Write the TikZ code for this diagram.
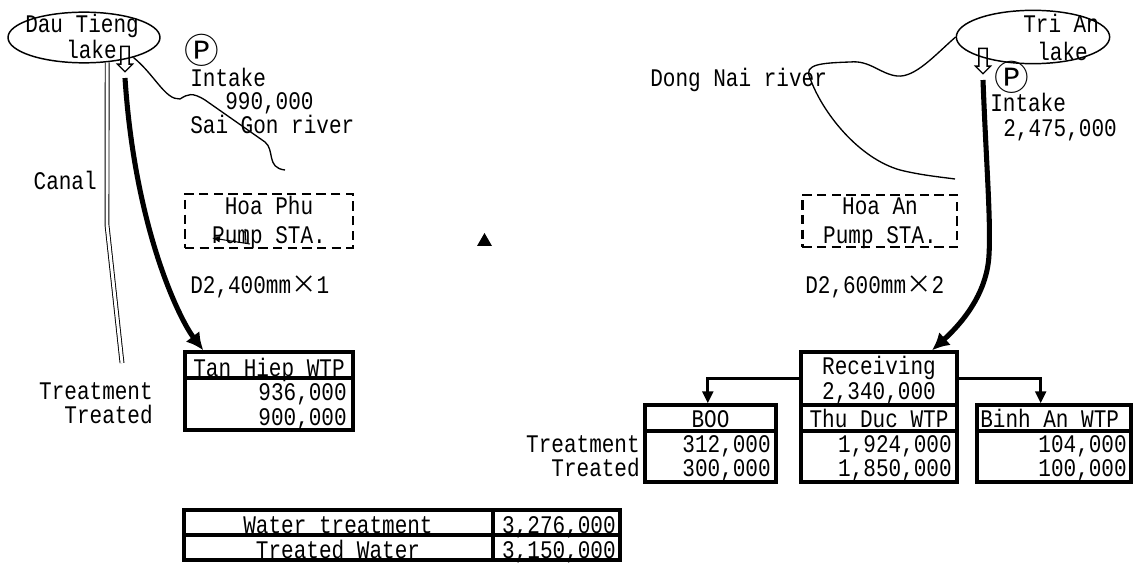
\documentclass[tikz,border=0pt]{standalone}
\usepackage{fontspec}
\setmainfont{Liberation Mono}[FakeStretch=0.83]
\newfontfamily\symfont{Noto Sans CJK JP}
\usetikzlibrary{arrows.meta, shapes.geometric, shapes.arrows}

\begin{document}
\begin{tikzpicture}[
  x=0.75pt, y=-0.75pt,
  font=\fontsize{19}{17.6}\selectfont,
  txt/.style={inner sep=0pt, anchor=base west},
  txtr/.style={inner sep=0pt, anchor=base east},
  txtc/.style={inner sep=0pt, anchor=base},
  pmark/.style={font=\symfont\fontsize{26}{26}\selectfont, inner sep=0pt},
  lake/.style={draw, ellipse, line width=1.1pt, inner sep=0pt},
  pumpsta/.style={draw, dash pattern=on 7pt off 4pt, line width=2pt},
  tbl/.style={draw, line width=2.5pt, inner sep=0pt},
  rule/.style={line width=2.5pt},
  river/.style={line width=1pt},
  mainpipe/.style={line width=3.8pt, -{Latex[length=13pt,width=13pt]}},
  branch/.style={line width=2.3pt, -{Triangle[length=9pt,width=8pt]}},
  inflow/.style={draw, single arrow, shape border rotate=270, line width=1pt,
    inner sep=2.6pt, minimum width=10.5pt, single arrow head extend=2.6pt,
    single arrow head indent=0pt, minimum height=19pt},
]
  % page: 1133 x 563 px, 1px = 0.75pt, y grows downwards
  \useasboundingbox (0,0) rectangle (1133,563);
  \newcommand\mtimes{{\symfont ×}}

  % ---------------- Sai Gon side ----------------
  \node[lake, minimum width=114pt, minimum height=38pt] (dautieng) at (84,37.5) {};
  \node[txt] (dtname) at (25,33) {Dau Tieng};
  \node[txt] (dtlake) at (66,59) {lake};
  \node[inflow] (dtarrow) at (125,57) {};

  % Sai Gon river
  \coordinate (sgend) at (285,170);
  \draw[river] (dautieng.-22) .. controls (155,75) and (165,100) .. (180,99)
    .. controls (188,94) and (192,92) .. (205,100) -- (265,142)
    .. controls (275,150) and (266,168) .. (sgend);

  \node[pmark] (dtpump) at (202,50) {Ⓟ};
  \node[txt] (dtintake) at (190,87) {Intake};
  \node[txt] (dtflow) at (225,110) {990,000};
  \node[txt] (sgriver) at (190,134) {Sai Gon river};

  % canal
  \coordinate (canalbend) at (107,225);
  \coordinate (canalend) at (122,363);
  \draw[double, double distance=2.2pt, line width=0.7pt]
    (dautieng.-47) -- (canalbend) -- (canalend);
  \node[txtr] (canal) at (97,190) {Canal};

  % Hoa Phu pump station
  \node[pumpsta, minimum width=126pt, minimum height=40.5pt] (hoaphu) at (269,221) {};
  \node[txtc] (hpname) at (269,215) {Hoa Phu};
  \node[txtc] (hpsta) at (269,244) {Pump STA.};
  \coordinate (artA) at (250,244);
  \coordinate (artB) at (212,238);
  \draw[line width=0.8pt, -{Latex[length=6pt,width=5pt]}] (artA) -- (artB);
  \draw[line width=0.8pt] (245,229) -- (246,243);

  \fill (477,246) -- (484.5,233) -- (492,246) -- cycle;

  \node[txt] (dtpipe) at (190,294) {D2,400mm\mtimes1};

  % Tan Hiep WTP
  \node[tbl, minimum width=126pt, minimum height=58.5pt] (tanhiep) at (269,391) {};
  \draw[rule] (tanhiep.west |- 0,378) -- (tanhiep.east |- 0,378);
  \node[txtc] (thname) at (269,376) {Tan Hiep WTP};
  \node[txtr] (thtreat) at (347,400) {936,000};
  \node[txtr] (thtreated) at (347,425) {900,000};
  \node[txtr] (lbtreat) at (153,399) {Treatment};
  \node[txtr] (lbtreated) at (153,423) {Treated};

  \draw[mainpipe] ([yshift=-4pt]dtarrow.tip) .. controls (135,230) and (180,320)
    .. ([xshift=15pt]tanhiep.north west);

  % ---------------- Dong Nai side ----------------
  \node[lake, minimum width=115pt, minimum height=40pt] (trian) at (1033,37) {};
  \node[txt] (taname) at (1023,33) {Tri An};
  \node[txt] (talake) at (1037,61) {lake};
  \node[inflow] (taarrow) at (983,59) {};

  % Dong Nai river
  \coordinate (dnend) at (955,179);
  \draw[river] (trian.west) .. controls (935,55) and (915,78) .. (897,76)
    .. controls (880,74) and (870,60) .. (850,62)
    .. controls (822,63) and (803,64) .. (810,78)
    .. controls (822,112) and (858,158) .. (900,170)
    .. controls (920,175) and (940,177) .. (dnend);
  \node[txt] (dnriver) at (650,87) {Dong Nai river};

  \node[pmark] (tapump) at (1012,77) {Ⓟ};
  \node[txt] (taintake) at (990,112) {Intake};
  \node[txt] (taflow) at (1003,137) {2,475,000};

  % Hoa An pump station
  \node[pumpsta, minimum width=116pt, minimum height=39pt] (hoaan) at (879.5,221) {};
  \node[txtc] (haname) at (880,215) {Hoa An};
  \node[txtc] (hasta) at (880,244) {Pump STA.};

  \node[txt] (tapipe) at (805,294) {D2,600mm\mtimes2};

  % receiving and plants
  \node[tbl, minimum width=117pt, minimum height=39.75pt] (recv) at (879,378.5) {};
  \node[txtc] (rcname) at (879,374) {Receiving};
  \node[txtc] (rcflow) at (879,399) {2,340,000};

  \node[tbl, minimum width=98.25pt, minimum height=57.75pt] (boo) at (710.5,443.5) {};
  \node[tbl, minimum width=117pt, minimum height=57.75pt] (thuduc) at (879,443.5) {};
  \node[tbl, minimum width=115.5pt, minimum height=57.75pt] (binhan) at (1054,443.5) {};
  \foreach \t in {boo, thuduc, binhan}
    \draw[rule] (\t.west |- 0,431) -- (\t.east |- 0,431);

  \node[txtc] (booname) at (710.5,427) {BOO};
  \node[txtr] (bootreat) at (771,452) {312,000};
  \node[txtr] (bootreated) at (771,476) {300,000};
  \node[txtc] (tdname) at (879,427) {Thu Duc WTP};
  \node[txtr] (tdtreat) at (952,452) {1,924,000};
  \node[txtr] (tdtreated) at (952,476) {1,850,000};
  \node[txt] (baname) at (980,427) {Binh An WTP};
  \node[txtr] (batreat) at (1127,452) {104,000};
  \node[txtr] (batreated) at (1127,476) {100,000};
  \node[txtr] (rtreat) at (640,452) {Treatment};
  \node[txtr] (rtreated) at (640,476) {Treated};

  \draw[mainpipe] ([yshift=-4pt]taarrow.tip) .. controls (986,160) and (991,220) .. (989,255)
    .. controls (987,295) and (960,325) .. ([xshift=-20pt]recv.north east);
  \draw[branch] (recv.west) -| ([xshift=-2pt]boo.north);
  \draw[branch] (recv.east) -| ([xshift=-10pt]binhan.north);

  % totals
  \draw[rule] (184,510) rectangle (620,560);
  \draw[rule] (184,535) -- (620,535);
  \draw[rule] (493,510) -- (493,560);
  \node[txtc] (totreat) at (338,533) {Water treatment};
  \node[txtc] (totreated) at (338,558) {Treated Water};
  \node[txtr] (totreatv) at (616,533) {3,276,000};
  \node[txtr] (totreatedv) at (616,558) {3,150,000};
\end{tikzpicture}
\end{document}
